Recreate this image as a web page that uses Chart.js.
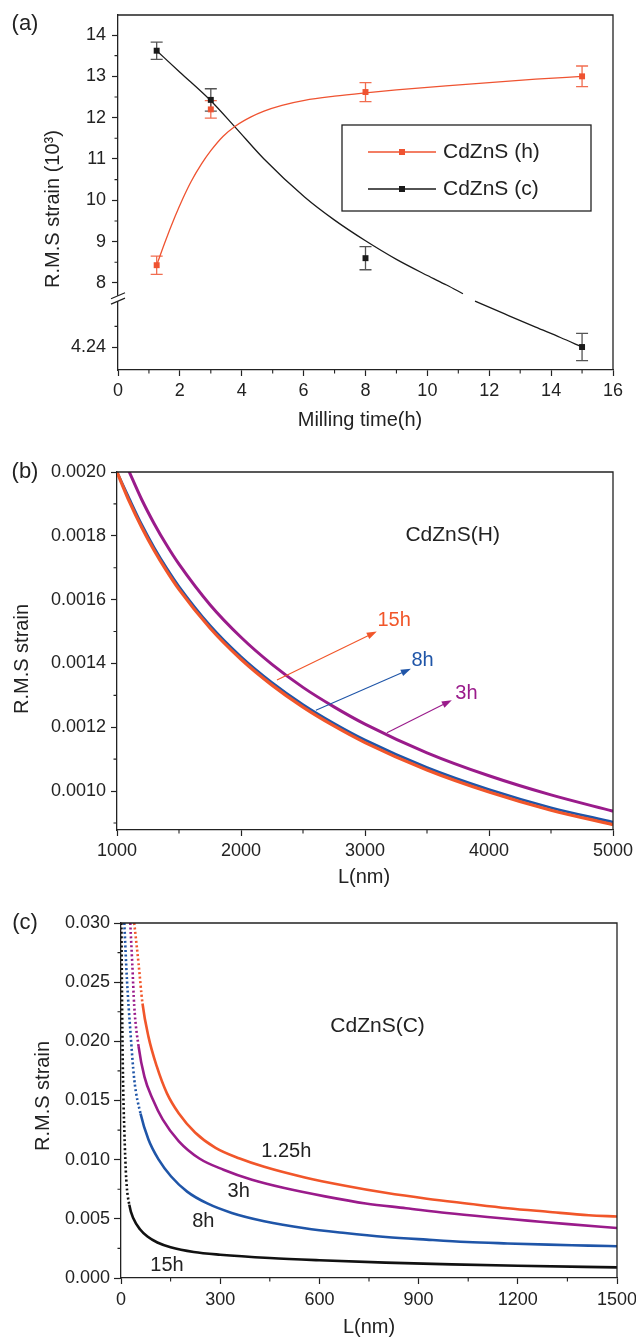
<!DOCTYPE html>
<html>
<head>
<meta charset="utf-8">
<title>CdZnS R.M.S strain</title>
<script src="https://cdn.jsdelivr.net/npm/chart.js@4.4.1/dist/chart.umd.min.js"></script>
<style>
  html, body { margin: 0; padding: 0; background: #fff; }
  #page { position: relative; width: 636px; height: 1337px; overflow: hidden; background: #fff; }
  canvas { position: absolute; left: 0; }
</style>
</head>
<body>
<div id="page">
  <canvas id="chartA" width="636" height="445" style="top:0px"></canvas>
  <canvas id="chartB" width="636" height="445" style="top:445px"></canvas>
  <canvas id="chartC" width="636" height="447" style="top:890px"></canvas>
</div>
<script>
// ---------- (a) strain (x10^3) vs milling time ----------
const millingTime = [1.25, 3, 8, 15];
const strainHex = [8.43, 12.2, 12.62, 13.0];
const errHex = [0.22, 0.21, 0.23, 0.25];
const strainCub = [13.62, 12.43, 8.6, 4.24];
const errCub = [0.21, 0.27, 0.28, 0.33];

// smooth guide curves drawn through the points
const guideHexT = [1.25, 1.5, 1.84, 2.1, 2.36, 2.7, 3.0, 3.4, 3.8, 4.3, 4.72, 5.3, 6.03, 7, 8, 9, 10.6, 12, 13.5, 15];
const guideHexV = [8.43, 8.95, 9.6, 10.05, 10.45, 10.88, 11.2, 11.55, 11.8, 12.02, 12.16, 12.3, 12.42, 12.52, 12.6, 12.67, 12.77, 12.85, 12.93, 13.0];
const guideCubT = [1.25, 2, 3, 3.8, 4.72, 6.03, 7, 8, 9, 10, 10.62, 11.15, 11.35, 11.54, 12.5, 13.5, 14.3, 15];
const guideCubV = [13.62, 13.1, 12.41, 11.76, 11.0, 10.08, 9.52, 9.02, 8.57, 8.18, 7.95, 7.74, null, 5.35, 5.04, 4.72, 4.47, 4.24];

// ---------- (b) CdZnS(H), L = 1000..5000 nm ----------
const lengthH = [1000, 1100, 1200, 1300, 1400, 1500, 1750, 2000, 2250, 2500, 2750, 3000, 3500, 4000, 4500, 5000];
const hex15h = [0.002, 0.001907, 0.001826, 0.001754, 0.00169, 0.001632, 0.001511, 0.001413, 0.001332, 0.001263, 0.001204, 0.001152, 0.001066, 0.000997, 0.00094, 0.000895];
const hex8h = [0.002, 0.001916, 0.001835, 0.001763, 0.001699, 0.001641, 0.001519, 0.001421, 0.00134, 0.001271, 0.001212, 0.00116, 0.001074, 0.001005, 0.000948, 0.000903];
const lengthH3h = [1090, 1200, 1300, 1400, 1500, 1750, 2000, 2250, 2500, 2750, 3000, 3500, 4000, 4500, 5000];
const hex3h = [0.002008, 0.001913, 0.001838, 0.001771, 0.001711, 0.001584, 0.001482, 0.001397, 0.001325, 0.001264, 0.00121, 0.00112, 0.001048, 0.000988, 0.000937];

// ---------- (c) CdZnS(C), L = 0..1500 nm ----------
const lenC125 = [40, 53, 65, 83, 108, 139, 175, 224, 286, 359, 433, 556, 678, 800, 925, 1045, 1170, 1290, 1415, 1500];
const cub125h = [0.0300, 0.0266, 0.0232, 0.0204, 0.0179, 0.0156, 0.0139, 0.0123, 0.0110, 0.0101, 0.0094, 0.0085, 0.0078, 0.0072, 0.0067, 0.0063, 0.0059, 0.0056, 0.0053, 0.0052];
const lenC3 = [28, 34, 40, 53, 71, 96, 126, 175, 237, 310, 396, 494, 617, 740, 862, 985, 1108, 1230, 1353, 1500];
const cub3h = [0.0300, 0.0266, 0.0230, 0.0196, 0.0170, 0.0151, 0.0134, 0.01155, 0.0101, 0.00915, 0.0083, 0.0076, 0.0069, 0.0063, 0.0059, 0.00549, 0.00515, 0.00485, 0.00455, 0.00423];
const lenC8 = [10, 18, 28, 40, 59, 83, 114, 151, 200, 261, 335, 433, 556, 678, 801, 924, 1046, 1169, 1292, 1414, 1500];
const cub8h = [0.0300, 0.0252, 0.0210, 0.0168, 0.0139, 0.0117, 0.0100, 0.0086, 0.0073, 0.0063, 0.0055, 0.0048, 0.0042, 0.0038, 0.00347, 0.00324, 0.00304, 0.00292, 0.00282, 0.00274, 0.00268];
const lenC15 = [1.2, 3.5, 6, 10, 16, 25, 38, 58, 80, 110, 150, 220, 300, 450, 600, 800, 1000, 1200, 1500];
const cub15h = [0.030, 0.0225, 0.0170, 0.0125, 0.0083, 0.0062, 0.0050, 0.0041, 0.0035, 0.0030, 0.0026, 0.0022, 0.00197, 0.00169, 0.0015, 0.0013, 0.00115, 0.00103, 0.0009];

const INK = '#222222';
const RED = '#ef5331';
const ORANGE = '#f1562a';
const BLUE = '#1f55a8';
const PURPLE = '#9a1b8b';
const FONT = '"Liberation Sans", Arial, sans-serif';

Chart.defaults.font.family = FONT;
Chart.defaults.font.size = 18;
Chart.defaults.color = INK;

// axis break in (a): values below LOWER_TOP are drawn BREAK_SHIFT units higher
const LOWER_TOP = 5.4;
const BREAK_SHIFT = 2.21;
const toAxis = v => (v == null ? null : (v <= LOWER_TOP ? v + BREAK_SHIFT : v));
const fromAxis = d => (d <= LOWER_TOP + BREAK_SHIFT ? d - BREAK_SHIFT : d);

const pts = (xs, ys, f) => xs.map((x, i) => ({ x: x, y: f ? f(ys[i]) : ys[i] }));

// fix the axis box so the plot area lands where wanted
function boxSize(px) {
  return scale => {
    if (scale.isHorizontal()) scale.height = px; else scale.width = px;
    scale.paddingLeft = scale.paddingRight = scale.paddingTop = scale.paddingBottom = 0;
  };
}

function linearAxis(o) {
  return {
    type: 'linear',
    min: o.min, max: o.max,
    afterBuildTicks: o.tickValues ? (s => { s.ticks = o.tickValues.map(v => ({ value: v })); }) : undefined,
    afterFit: boxSize(o.box),
    grid: { drawOnChartArea: false, tickLength: o.tickLength || 6, tickWidth: 1.2, tickColor: INK },
    border: { color: INK, width: 1.3 },
    ticks: {
      stepSize: o.step, autoSkip: false, maxRotation: 0, padding: o.pad,
      color: INK, font: { size: 18 },
      callback: o.label
    }
  };
}

// frame, minor ticks, texts, arrows, error bars, legend, axis break
const decor = {
  id: 'decor',
  beforeDatasetsDraw(chart, args, o) {
    const { ctx } = chart, xs = chart.scales.x, ys = chart.scales.y;
    const map = o.mapY || (v => v);
    ctx.save();
    chart.data.datasets.forEach(ds => {
      if (!ds.err) return;
      ctx.strokeStyle = ds.errColor;
      ctx.lineWidth = 1.3;
      ds.real.forEach((v, i) => {
        const px = xs.getPixelForValue(millingTime[i]);
        const hi = ys.getPixelForValue(map(v + ds.err[i]));
        const lo = ys.getPixelForValue(map(v - ds.err[i]));
        ctx.beginPath();
        ctx.moveTo(px, hi); ctx.lineTo(px, lo);
        ctx.moveTo(px - 6, hi); ctx.lineTo(px + 6, hi);
        ctx.moveTo(px - 6, lo); ctx.lineTo(px + 6, lo);
        ctx.stroke();
      });
    });
    ctx.restore();
  },
  afterDraw(chart, args, o) {
    const { ctx, chartArea: a } = chart, xs = chart.scales.x, ys = chart.scales.y;
    ctx.save();
    // top and right frame
    ctx.strokeStyle = INK; ctx.lineWidth = 1.3;
    ctx.beginPath();
    ctx.moveTo(a.left, a.top); ctx.lineTo(a.right, a.top); ctx.lineTo(a.right, a.bottom);
    ctx.stroke();
    // minor ticks
    ctx.lineWidth = 1.1;
    ctx.beginPath();
    (o.minorX || []).forEach(v => {
      const p = xs.getPixelForValue(v);
      ctx.moveTo(p, a.bottom); ctx.lineTo(p, a.bottom + 3.5);
    });
    (o.minorY || []).forEach(v => {
      const p = ys.getPixelForValue(v);
      ctx.moveTo(a.left, p); ctx.lineTo(a.left - 3.5, p);
    });
    ctx.stroke();
    // axis break marks
    if (o.axisBreak) {
      const t = ys.getPixelForValue(o.axisBreak[1]);
      const b = ys.getPixelForValue(o.axisBreak[0]);
      ctx.fillStyle = '#fff';
      ctx.fillRect(a.left - 2, t, 4, b - t);
      ctx.strokeStyle = INK; ctx.lineWidth = 1.2;
      ctx.beginPath();
      ctx.moveTo(a.left - 7, t + 3); ctx.lineTo(a.left + 7, t - 3);
      ctx.moveTo(a.left - 7, b + 3); ctx.lineTo(a.left + 7, b - 3);
      ctx.stroke();
    }
    // arrows given in data units
    (o.arrows || []).forEach(ar => {
      const x0 = xs.getPixelForValue(ar.from[0]), y0 = ys.getPixelForValue(ar.from[1]);
      const x1 = xs.getPixelForValue(ar.to[0]), y1 = ys.getPixelForValue(ar.to[1]);
      const ang = Math.atan2(y1 - y0, x1 - x0);
      ctx.strokeStyle = ar.color; ctx.fillStyle = ar.color; ctx.lineWidth = 1.1;
      ctx.beginPath(); ctx.moveTo(x0, y0);
      ctx.lineTo(x1 - 8 * Math.cos(ang), y1 - 8 * Math.sin(ang)); ctx.stroke();
      ctx.beginPath();
      ctx.moveTo(x1, y1);
      ctx.lineTo(x1 - 10 * Math.cos(ang) + 3.5 * Math.sin(ang), y1 - 10 * Math.sin(ang) - 3.5 * Math.cos(ang));
      ctx.lineTo(x1 - 10 * Math.cos(ang) - 3.5 * Math.sin(ang), y1 - 10 * Math.sin(ang) + 3.5 * Math.cos(ang));
      ctx.closePath(); ctx.fill();
    });
    // legend box
    if (o.legend) {
      const L = o.legend;
      ctx.strokeStyle = INK; ctx.lineWidth = 1.3;
      ctx.strokeRect(L.box[0], L.box[1], L.box[2] - L.box[0], L.box[3] - L.box[1]);
      L.rows.forEach(r => {
        ctx.strokeStyle = r.color; ctx.fillStyle = r.color; ctx.lineWidth = 1.3;
        ctx.beginPath(); ctx.moveTo(L.lineFrom, r.y); ctx.lineTo(L.lineTo, r.y); ctx.stroke();
        const mid = (L.lineFrom + L.lineTo) / 2;
        ctx.fillRect(mid - 3, r.y - 3, 6, 6);
        ctx.fillStyle = INK;
        ctx.font = '21px ' + FONT;
        ctx.textAlign = 'left'; ctx.textBaseline = 'middle';
        ctx.fillText(r.text, L.textX, r.y);
      });
    }
    // texts: data-anchored (x, y) or canvas-anchored (px, py)
    (o.texts || []).forEach(t => {
      const px = t.px != null ? t.px : xs.getPixelForValue(t.x);
      const py = t.py != null ? t.py : ys.getPixelForValue(t.y);
      ctx.save();
      ctx.translate(px, py);
      if (t.rotate) ctx.rotate(t.rotate);
      ctx.font = (t.size || 20) + 'px ' + FONT;
      ctx.fillStyle = t.color || INK;
      ctx.textAlign = t.align || 'center';
      ctx.textBaseline = 'middle';
      ctx.fillText(t.text, 0, 0);
      ctx.restore();
    });
    ctx.restore();
  }
};

const common = {
  responsive: false,
  animation: false,
  devicePixelRatio: 1,
  events: []
};

// ---------- chart (a) ----------
new Chart(document.getElementById('chartA'), {
  type: 'scatter',
  data: {
    datasets: [
      { data: pts(guideHexT, guideHexV, toAxis), showLine: true, borderColor: RED, borderWidth: 1.3,
        pointRadius: 0, cubicInterpolationMode: 'monotone' },
      { data: pts(guideCubT, guideCubV, toAxis), showLine: true, borderColor: '#1a1a1a', borderWidth: 1.3,
        pointRadius: 0, cubicInterpolationMode: 'monotone', spanGaps: false },
      { label: 'CdZnS (h)', data: pts(millingTime, strainHex, toAxis), pointStyle: 'rect', pointRadius: 4.2,
        backgroundColor: RED, borderWidth: 0, real: strainHex, err: errHex, errColor: 'rgba(239,83,49,0.85)' },
      { label: 'CdZnS (c)', data: pts(millingTime, strainCub, toAxis), pointStyle: 'rect', pointRadius: 4.2,
        backgroundColor: '#1a1a1a', borderWidth: 0, real: strainCub, err: errCub, errColor: '#555555' }
    ]
  },
  options: Object.assign({}, common, {
    layout: { padding: { left: 0, top: 15, right: 23, bottom: 0 } },
    plugins: {
      legend: { display: false }, tooltip: { enabled: false },
      decor: {
        mapY: toAxis,
        minorX: [1, 3, 5, 7, 9, 11, 13, 15],
        minorY: [8.5, 9.5, 10.5, 11.5, 12.5, 13.5, toAxis(4.74)],
        axisBreak: [7.56, 7.69],
        legend: {
          box: [342, 125, 591, 211], lineFrom: 368, lineTo: 436, textX: 443,
          rows: [{ text: 'CdZnS (h)', color: RED, y: 152 }, { text: 'CdZnS (c)', color: '#1a1a1a', y: 189 }]
        },
        texts: [
          { text: '(a)', px: 25, py: 24, size: 22 },
          { text: 'R.M.S strain (10³)', px: 53, py: 209, rotate: -Math.PI / 2 },
          { text: 'Milling time(h)', px: 360, py: 420 }
        ]
      }
    },
    scales: {
      x: linearAxis({ min: 0, max: 16, step: 2, box: 75, pad: 4 }),
      y: linearAxis({
        min: 5.894, max: 14.484, box: 118, pad: 6,
        tickValues: [toAxis(4.24), 8, 9, 10, 11, 12, 13, 14],
        label: v => { const r = fromAxis(v); return Math.abs(r - Math.round(r)) < 1e-6 ? String(Math.round(r)) : r.toFixed(2); }
      })
    }
  }),
  plugins: [decor]
});

// ---------- chart (b) ----------
new Chart(document.getElementById('chartB'), {
  type: 'scatter',
  data: {
    datasets: [
      { label: '15h', data: pts(lengthH, hex15h), showLine: true, borderColor: ORANGE, borderWidth: 3.2, pointRadius: 0, cubicInterpolationMode: 'monotone' },
      { label: '8h', data: pts(lengthH, hex8h), showLine: true, borderColor: BLUE, borderWidth: 2.6, pointRadius: 0, cubicInterpolationMode: 'monotone' },
      { label: '3h', data: pts(lengthH3h, hex3h), showLine: true, borderColor: PURPLE, borderWidth: 3, pointRadius: 0, cubicInterpolationMode: 'monotone' }
    ]
  },
  options: Object.assign({}, common, {
    layout: { padding: { left: 0, top: 27, right: 23, bottom: 0 } },
    plugins: {
      legend: { display: false }, tooltip: { enabled: false },
      decor: {
        minorX: [1500, 2500, 3500, 4500],
        minorY: [0.0009, 0.0011, 0.0013, 0.0015, 0.0017, 0.0019],
        arrows: [
          { from: [2290, 0.001348], to: [3095, 0.0015], color: ORANGE },
          { from: [2604, 0.001253], to: [3370, 0.001383], color: BLUE },
          { from: [3177, 0.001183], to: [3700, 0.001285], color: PURPLE }
        ],
        texts: [
          { text: '(b)', px: 25, py: 27, size: 22 },
          { text: 'R.M.S strain', px: 22.5, py: 214, rotate: -Math.PI / 2 },
          { text: 'L(nm)', px: 364, py: 432 },
          { text: 'CdZnS(H)', x: 3707, y: 0.001803, size: 21 },
          { text: '15h', x: 3100, y: 0.001534, color: ORANGE, align: 'left' },
          { text: '8h', x: 3375, y: 0.001408, color: BLUE, align: 'left' },
          { text: '3h', x: 3728, y: 0.001307, color: PURPLE, align: 'left' }
        ]
      }
    },
    scales: {
      x: linearAxis({ min: 1000, max: 5000, step: 1000, box: 60, pad: 4 }),
      y: linearAxis({
        min: 0.000878, max: 0.0020, box: 117, pad: 5,
        tickValues: [0.0010, 0.0012, 0.0014, 0.0016, 0.0018, 0.0020],
        label: v => v.toFixed(4)
      })
    }
  }),
  plugins: [decor]
});

// ---------- chart (c) ----------
const dotted = limit => ({ borderDash: c => (c.p0.parsed.y > limit ? [2, 2.5] : undefined) });

new Chart(document.getElementById('chartC'), {
  type: 'scatter',
  data: {
    datasets: [
      { label: '1.25h', data: pts(lenC125, cub125h), showLine: true, borderColor: ORANGE, borderWidth: 2.6, pointRadius: 0, cubicInterpolationMode: 'monotone', segment: dotted(0.025) },
      { label: '3h', data: pts(lenC3, cub3h), showLine: true, borderColor: PURPLE, borderWidth: 2.6, pointRadius: 0, cubicInterpolationMode: 'monotone', segment: dotted(0.021) },
      { label: '8h', data: pts(lenC8, cub8h), showLine: true, borderColor: BLUE, borderWidth: 2.6, pointRadius: 0, cubicInterpolationMode: 'monotone', segment: dotted(0.016) },
      { label: '15h', data: pts(lenC15, cub15h), showLine: true, borderColor: '#111111', borderWidth: 2.6, pointRadius: 0, cubicInterpolationMode: 'monotone', segment: dotted(0.0078) }
    ]
  },
  options: Object.assign({}, common, {
    layout: { padding: { left: 0, top: 33, right: 19, bottom: 0 } },
    plugins: {
      legend: { display: false }, tooltip: { enabled: false },
      decor: {
        minorX: [150, 450, 750, 1050, 1350],
        minorY: [0.0025, 0.0075, 0.0125, 0.0175, 0.0225, 0.0275],
        texts: [
          { text: '(c)', px: 25, py: 33, size: 22 },
          { text: 'R.M.S strain', px: 43, py: 206, rotate: -Math.PI / 2 },
          { text: 'L(nm)', px: 369, py: 437 },
          { text: 'CdZnS(C)', x: 776, y: 0.02127, size: 21 },
          { text: '1.25h', x: 500, y: 0.01071 },
          { text: '3h', x: 356, y: 0.00732 },
          { text: '8h', x: 249, y: 0.00479 },
          { text: '15h', x: 139, y: 0.00105 }
        ]
      }
    },
    scales: {
      x: linearAxis({ min: 0, max: 1500, step: 300, box: 59, pad: 5 }),
      y: linearAxis({
        min: 0, max: 0.030, box: 121, pad: 4, tickLength: 7,
        tickValues: [0, 0.005, 0.010, 0.015, 0.020, 0.025, 0.030],
        label: v => v.toFixed(3)
      })
    }
  }),
  plugins: [decor]
});
</script>
</body>
</html>
